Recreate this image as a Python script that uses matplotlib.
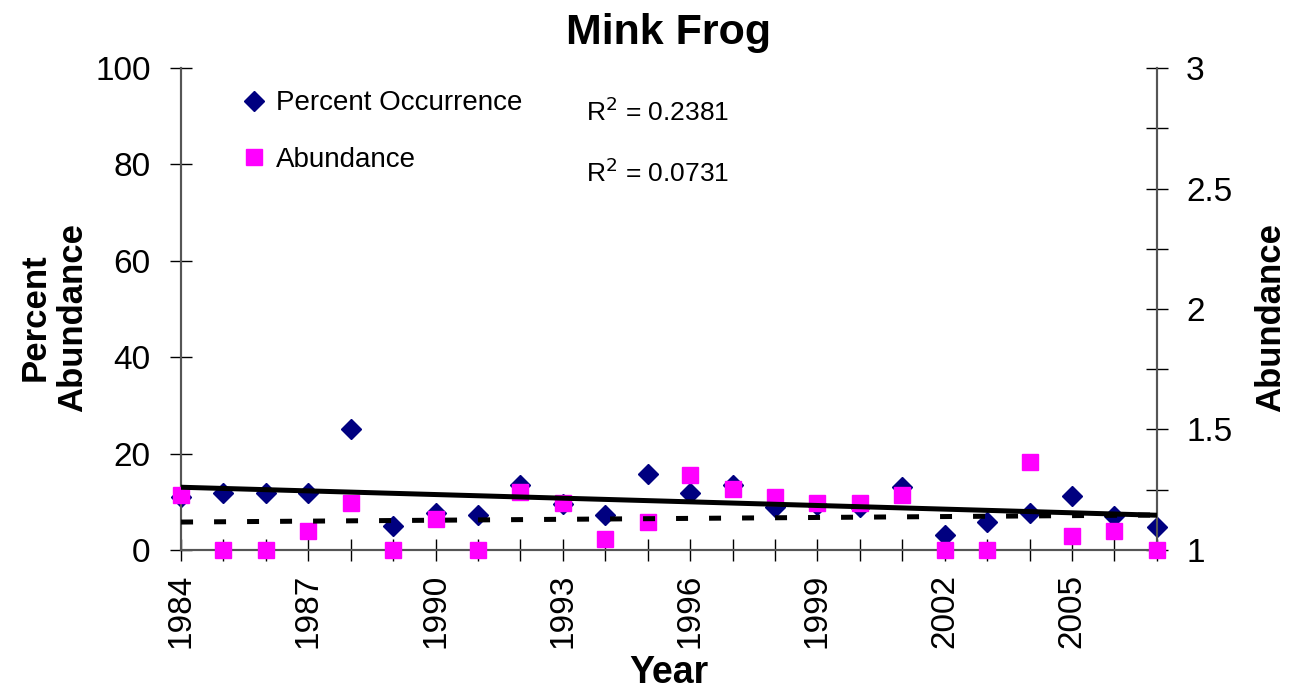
import numpy as np
import matplotlib
matplotlib.use("Agg")
import matplotlib.pyplot as plt
from matplotlib.ticker import MultipleLocator
from matplotlib.lines import Line2D

plt.rcParams["font.family"] = ["Liberation Sans", "DejaVu Sans"]

years = np.arange(1984, 2008)
pct_occurrence = [11.0, 11.8, 11.8, 11.8, 25.1, 5.0, 7.7, 7.3, 13.5, 9.5, 7.3, 15.8,
                  11.8, 13.5, 8.9, 9.3, 8.9, 13.1, 3.1, 5.8, 7.7, 11.2, 7.1, 4.8]
abundance = [1.228, 1.0, 1.0, 1.079, 1.195, 1.0, 1.129, 1.0, 1.241, 1.195, 1.046, 1.116,
             1.311, 1.253, 1.22, 1.195, 1.195, 1.228, 1.0, 1.0, 1.365, 1.058, 1.079, 1.0]
r2_labels = ["R$^2$ = 0.2381", "R$^2$ = 0.0731"]
xtick_years = list(range(1984, 2007, 3))

NAVY = "#000080"
MAGENTA = "#FF00FF"

fig = plt.figure(figsize=(12.97, 6.94), dpi=100)
ax = fig.add_axes([0.1396, 0.2075, 0.7524, 0.6945])
ax2 = ax.twinx()

ax.plot(years, pct_occurrence, "D", color=NAVY, ms=10, mec=NAVY, clip_on=False, zorder=4)
ax2.plot(years, abundance, "s", color=MAGENTA, ms=11.5, mec=MAGENTA, clip_on=False, zorder=4)

# trend lines (least squares), drawn over the markers
p1 = np.polyfit(years, pct_occurrence, 1)
p2 = np.polyfit(years, abundance, 1)
ax2.plot(years, np.polyval(p1, years), color="black", lw=3.6, zorder=5,
         transform=ax.transData)
ax2.plot(years, np.polyval(p2, years), color="black", lw=3.6,
         dashes=(2.4, 4.2), zorder=5)

ax.set_xlim(1984, 2007)
ax.set_ylim(0, 100)
ax2.set_ylim(1, 3)

ax.set_xticks(xtick_years)
ax.set_xticklabels([str(y) for y in xtick_years], rotation=90, fontsize=24)
ax.xaxis.set_minor_locator(MultipleLocator(1))
ax.set_yticks(range(0, 101, 20))
ax.tick_params(axis="y", labelsize=24, direction="inout", length=16, width=1, pad=14)
ax.tick_params(axis="x", which="both", direction="inout", length=16, width=1, pad=9)
ax2.set_yticks([1, 1.5, 2, 2.5, 3])
ax2.set_yticklabels(["1", "1.5", "2", "2.5", "3"])
ax2.yaxis.set_minor_locator(MultipleLocator(0.25))
ax2.tick_params(axis="y", which="both", labelsize=24, direction="inout", length=16,
                width=1, pad=13)

for a in (ax, ax2):
    a.spines["top"].set_visible(False)
    for s in ("left", "right", "bottom"):
        a.spines[s].set_color("#555555")
        a.spines[s].set_linewidth(1.5)

ax.set_title("Mink Frog", fontsize=31, fontweight="bold", pad=17)
ax.set_xlabel("Year", fontsize=27, fontweight="bold", labelpad=5)
ax.set_ylabel("Percent\nAbundance", fontsize=25, fontweight="bold", linespacing=1.2)
ax.yaxis.set_label_coords(-0.094, 0.483)
ax2.set_ylabel("Abundance", fontsize=25, fontweight="bold")
ax2.yaxis.set_label_coords(1.0995, 0.483)

handles = [Line2D([], [], ls="none", marker="D", color=NAVY, ms=10),
           Line2D([], [], ls="none", marker="s", color=MAGENTA, ms=11.5)]
fig.legend(handles, ["Percent Occurrence", "Abundance"], loc="upper left",
           bbox_to_anchor=(0.170, 0.906), frameon=False, fontsize=20,
           handlelength=0.6, handletextpad=0.5, labelspacing=1.1)

ax.text(0.415, 0.91, r2_labels[0], transform=ax.transAxes, fontsize=19, va="center")
ax.text(0.415, 0.782, r2_labels[1], transform=ax.transAxes, fontsize=19, va="center")

fig.savefig("out.png", dpi=100)
